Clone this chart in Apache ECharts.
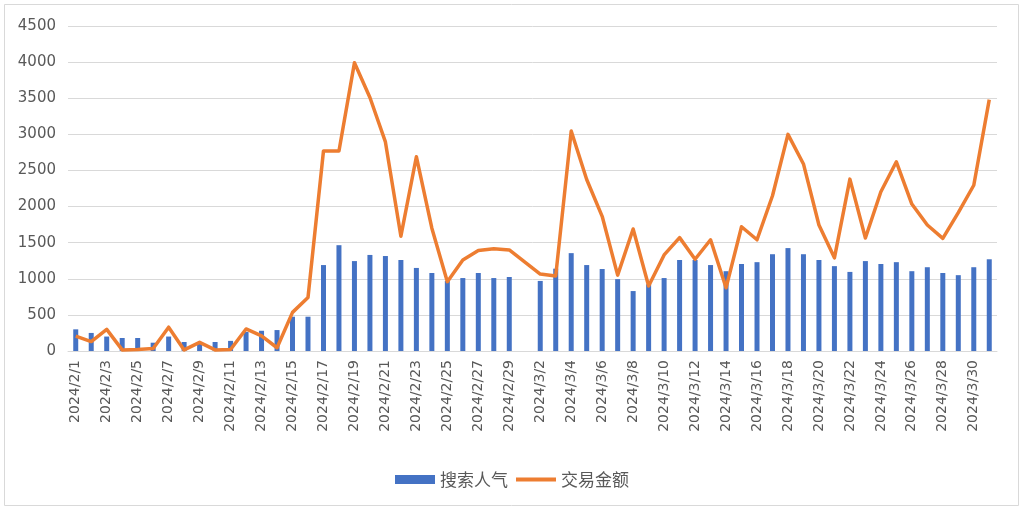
<!DOCTYPE html>
<html>
<head>
<meta charset="utf-8">
<script src="https://cdn.jsdelivr.net/npm/echarts@6/dist/echarts.min.js"></script>
<style>
    html, body { margin: 0; padding: 0; background: #fff; }
    #chart { width: 1024px; height: 511px; }
</style>
</head>
<body>
<div id="chart"></div>
<script>
    var dates = [
        '2024/2/1', '2024/2/2', '2024/2/3', '2024/2/4', '2024/2/5', '2024/2/6', '2024/2/7', '2024/2/8',
        '2024/2/9', '2024/2/10', '2024/2/11', '2024/2/12', '2024/2/13', '2024/2/14', '2024/2/15', '2024/2/16',
        '2024/2/17', '2024/2/18', '2024/2/19', '2024/2/20', '2024/2/21', '2024/2/22', '2024/2/23', '2024/2/24',
        '2024/2/25', '2024/2/26', '2024/2/27', '2024/2/28', '2024/2/29',
        '2024/3/1', '2024/3/2', '2024/3/3', '2024/3/4', '2024/3/5', '2024/3/6', '2024/3/7', '2024/3/8',
        '2024/3/9', '2024/3/10', '2024/3/11', '2024/3/12', '2024/3/13', '2024/3/14', '2024/3/15', '2024/3/16',
        '2024/3/17', '2024/3/18', '2024/3/19', '2024/3/20', '2024/3/21', '2024/3/22', '2024/3/23', '2024/3/24',
        '2024/3/25', '2024/3/26', '2024/3/27', '2024/3/28', '2024/3/29', '2024/3/30', '2024/3/31'
    ];

    // 搜索人气 (bars)
    var searchHeat = [
        300, 250, 200, 180, 180, 115, 200, 125, 100, 125, 140, 265, 280, 290, 475, 475,
        1190, 1465, 1245, 1330, 1315, 1260, 1150, 1080, 970, 1010, 1080, 1010, 1025,
        null, 970, 1140, 1355, 1190, 1135, 995, 830, 925, 1010, 1260, 1260, 1190, 1105, 1205, 1230,
        1340, 1425, 1340, 1260, 1175, 1095, 1245, 1205, 1230, 1105, 1160, 1080, 1050, 1160, 1270
    ];

    // 交易金额 (line)
    var tradeAmount = [
        205, 130, 300, 15, 20, 35, 330, 15, 120, 15, 20, 305, 210, 45, 535, 740,
        2770, 2770, 3990, 3510, 2895, 1590, 2690, 1700, 960, 1260, 1390, 1415, 1400,
        null, 1065, 1040, 3045, 2375, 1865, 1050, 1690, 900, 1330, 1570, 1270, 1540, 875, 1720, 1540,
        2150, 3000, 2590, 1745, 1290, 2380, 1565, 2205, 2620, 2035, 1745, 1560, 1915, 2295, 3480
    ];

    var chartDom = document.getElementById('chart');
    var myChart = echarts.init(chartDom);
    var labelColor = '#595959';
    var gridColor = '#d9d9d9';

    var option = {
        animation: false,
        backgroundColor: '#fff',
        graphic: [{
            type: 'rect',
            shape: { x: 4.5, y: 4.5, width: 1014, height: 501 },
            style: { fill: 'none', stroke: gridColor, lineWidth: 1 },
            silent: true
        }],
        grid: { left: 68, right: 27, top: 26, bottom: 160 },
        legend: {
            top: 466,
            left: 'center',
            itemGap: 6,
            itemWidth: 40,
            itemHeight: 9,
            textStyle: { color: labelColor, fontSize: 17, fontFamily: 'Noto Sans CJK SC' },
            data: [
                { name: '搜索人气', icon: 'rect' },
                {
                    name: '交易金额',
                    itemStyle: { color: 'rgba(0,0,0,0)', borderColor: 'rgba(0,0,0,0)', borderWidth: 0 },
                    lineStyle: { width: 4 }
                }
            ]
        },
        xAxis: {
            type: 'category',
            data: dates,
            boundaryGap: true,
            axisLine: { lineStyle: { color: gridColor, width: 1 } },
            axisTick: { interval: 1, length: 7, lineStyle: { color: gridColor } },
            axisLabel: {
                interval: 1,
                rotate: 90,
                margin: 9,
                color: labelColor,
                fontSize: 14,
                fontFamily: 'DejaVu Sans'
            }
        },
        yAxis: {
            type: 'value',
            min: 0,
            max: 4500,
            interval: 500,
            axisLine: { show: false },
            axisTick: { show: false },
            splitLine: { lineStyle: { color: gridColor, width: 1 } },
            axisLabel: {
                color: labelColor,
                fontSize: 15,
                margin: 12,
                fontFamily: 'DejaVu Sans',
                formatter: function (v) { return String(v); }
            }
        },
        series: [
            {
                name: '搜索人气',
                type: 'bar',
                data: searchHeat,
                barWidth: 5,
                itemStyle: { color: '#4472c4' }
            },
            {
                name: '交易金额',
                type: 'line',
                data: tradeAmount,
                symbol: 'none',
                connectNulls: true,
                lineStyle: { color: '#ed7d31', width: 3.5, join: 'round' },
                itemStyle: { color: '#ed7d31' }
            }
        ]
    };

    myChart.setOption(option);
</script>
</body>
</html>
